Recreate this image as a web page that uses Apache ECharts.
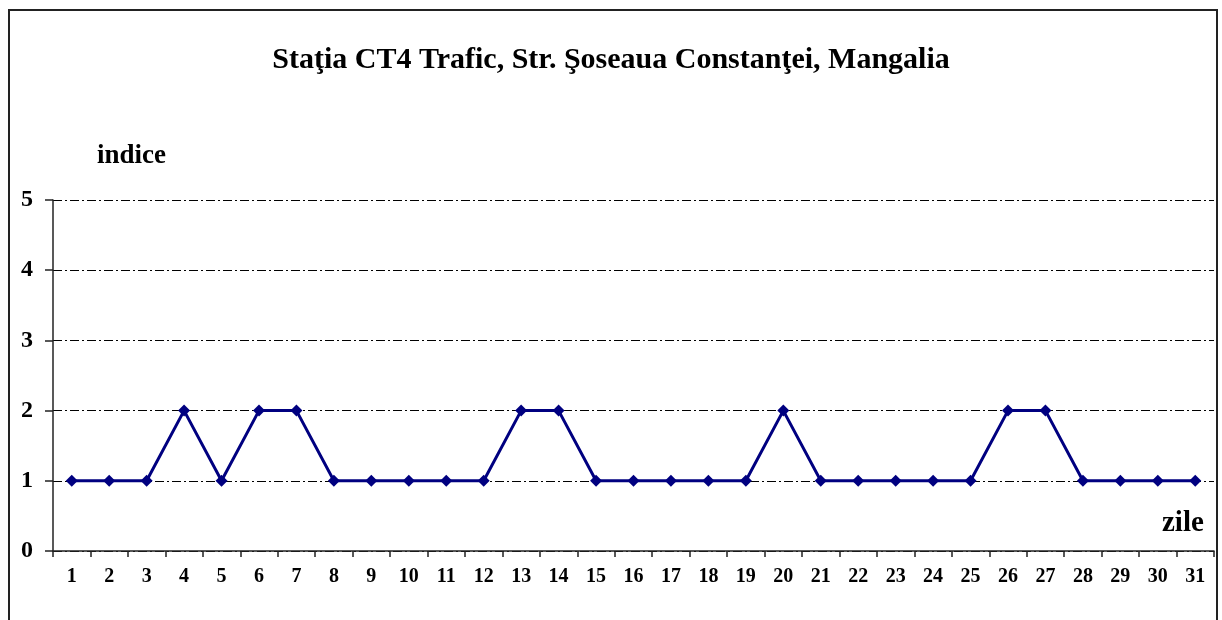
<!DOCTYPE html>
<html>
<head>
<meta charset="utf-8">
<script src="https://cdn.jsdelivr.net/npm/echarts@6/dist/echarts.min.js"></script>
<style>
html,body{margin:0;padding:0;background:#fff;}
#chart{width:1222px;height:620px;}
</style>
</head>
<body>
<div id="chart"></div>
<script>
const titleText = 'Staţia CT4 Trafic, Str. Şoseaua Constanţei, Mangalia';
const days = ['1','2','3','4','5','6','7','8','9','10','11','12','13','14','15','16','17','18','19','20','21','22','23','24','25','26','27','28','29','30','31'];
const indice = [1,1,1,2,1,2,2,1,1,1,1,1,2,2,1,1,1,1,1,2,1,1,1,1,1,2,2,1,1,1,1];
const yName = 'indice';
const xName = 'zile';

const serif = '"Liberation Serif", "Times New Roman", serif';
const chart = echarts.init(document.getElementById('chart'));
chart.setOption({
  backgroundColor: '#fff',
  animation: false,
  title: {
    text: titleText, left: 'center', top: 40,
    textStyle: { fontFamily: serif, fontWeight: 'bold', fontSize: 30, color: '#000' }
  },
  grid: { left: 53, right: 8, top: 200, bottom: 69 },
  graphic: [
    { type: 'rect', shape: { x: 9, y: 10, width: 1208, height: 700 }, style: { fill: 'none', stroke: '#222', lineWidth: 2 }, silent: true },
    { type: 'text', left: 97, top: 143, style: { text: yName, font: 'bold 27px ' + serif, fill: '#000' } },
    { type: 'text', left: 1162, top: 509, style: { text: xName, font: 'bold 29px ' + serif, fill: '#000' } }
  ],
  xAxis: {
    type: 'category', data: days, boundaryGap: true,
    axisLine: { lineStyle: { color: '#222', width: 1.5 } },
    axisTick: { show: true, length: 6, inside: false, alignWithLabel: false, lineStyle: { color: '#222', width: 1.5 } },
    axisLabel: { margin: 16, fontFamily: serif, fontWeight: 'bold', fontSize: 20, color: '#000', interval: 0 },
    splitLine: { show: false }
  },
  yAxis: {
    type: 'value', min: 0, max: 5, interval: 1,
    axisLine: { show: true, lineStyle: { color: '#222', width: 1.5 } },
    axisTick: { show: true, length: 8, lineStyle: { color: '#222', width: 1.5 } },
    axisLabel: { margin: 20, fontFamily: serif, fontWeight: 'bold', fontSize: 24, color: '#000' },
    splitLine: { show: true, lineStyle: { color: '#000', width: 1, type: [9, 3, 2, 3] } }
  },
  series: [{
    type: 'line', data: indice,
    symbol: 'diamond', symbolSize: 12,
    lineStyle: { color: '#000080', width: 3 },
    itemStyle: { color: '#000080' }
  }]
});
</script>
</body>
</html>
